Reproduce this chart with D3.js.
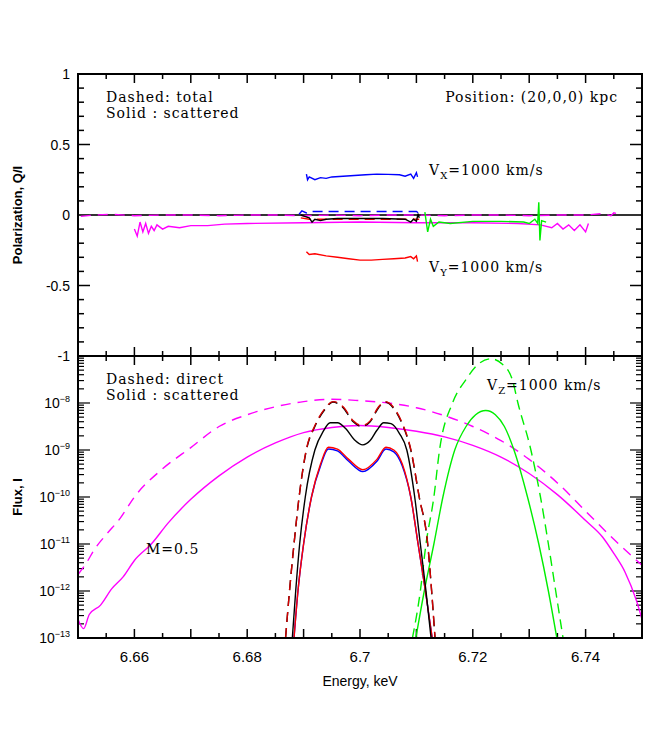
<!DOCTYPE html>
<html>
<head>
<meta charset="utf-8">
<script src="https://cdn.jsdelivr.net/npm/d3@7"></script>
<style>
  body { margin: 0; background: #fff; }
  text { font-family: "Liberation Sans", Arial, sans-serif; }
  .hx { font-family: "DejaVu Serif", serif; font-size: 14px; letter-spacing: 1px; }
</style>
</head>
<body>
<div id="chart"></div>
<script>
// ---- data: energy (keV) and values ----
// top panel: polarization Q/I
const magDashE = [6.6505,6.653,6.656,6.66,6.665,6.67,6.675,6.68,6.685,6.69,6.695,6.70,6.705,6.71,6.715,6.72,6.725,6.73,6.735,6.74,6.743,6.7445,6.745,6.7465]
const magDashQ = [-0.01,0,0.005,-0.005,0,0,-0.005,0,0,-0.005,0,-0.005,0,0,-0.005,0,0,-0.005,0,0,0.01,-0.005,0.015,0]
const magSolE = [6.660,6.6605,6.661,6.6615,6.662,6.6625,6.663,6.6635,6.664,6.665,6.666,6.668,6.670,6.673,6.676,6.680,6.690,6.700,6.710,6.720,6.728,6.732,6.734,6.735,6.736,6.737,6.738,6.739,6.740,6.7405]
const magSolQ = [-0.10,-0.15,-0.05,-0.12,-0.06,-0.13,-0.08,-0.11,-0.07,-0.10,-0.08,-0.09,-0.075,-0.075,-0.065,-0.06,-0.055,-0.05,-0.055,-0.055,-0.06,-0.07,-0.09,-0.06,-0.10,-0.07,-0.11,-0.07,-0.12,-0.06]
const blueSolE = [6.6905,6.6907,6.691,6.692,6.693,6.694,6.695,6.697,6.699,6.701,6.703,6.705,6.707,6.708,6.709,6.7095,6.710,6.7102]
const blueSolQ = [0.29,0.25,0.27,0.25,0.265,0.26,0.27,0.275,0.28,0.285,0.29,0.288,0.285,0.275,0.29,0.26,0.30,0.27]
const redSolE = [6.6905,6.691,6.692,6.694,6.696,6.698,6.700,6.702,6.704,6.706,6.708,6.709,6.7095,6.710,6.7102]
const redSolQ = [-0.26,-0.28,-0.275,-0.29,-0.30,-0.31,-0.32,-0.32,-0.315,-0.31,-0.305,-0.295,-0.31,-0.29,-0.33]
const blueDashE = [6.6892,6.6897,6.6905,6.691,6.70,6.710,6.7105,6.7108]
const blueDashQ = [0.005,0.03,0.015,0.025,0.025,0.025,0.01,0.03]
const blackSolE = [6.6895,6.691,6.6915,6.692,6.693,6.694,6.696,6.700,6.704,6.708,6.709,6.7095,6.7100,6.7103,6.7105]
const blackSolQ = [0,-0.02,-0.05,-0.03,-0.04,-0.03,-0.025,-0.025,-0.025,-0.03,-0.05,-0.03,-0.045,0.01,-0.02]
const redDashE = [6.6895,6.691,6.700,6.7105]
const redDashQ = [-0.02,-0.03,-0.03,-0.03]
const greenSolE = [6.7115,6.712,6.7125,6.713,6.714,6.716,6.720,6.725,6.729,6.730,6.731,6.7315,6.7317,6.7319,6.7322,6.733]
const greenSolQ = [0.02,-0.12,-0.03,-0.08,-0.05,-0.06,-0.045,-0.045,-0.05,-0.06,-0.03,-0.06,0.09,-0.18,-0.04,-0.05]

// bottom panel: log10 of flux I
const fMagDashE = [6.650,6.6515,6.653,6.655,6.6575,6.660,6.665,6.670,6.675,6.680,6.685,6.690,6.695,6.700,6.705,6.710,6.715,6.720,6.725,6.730,6.735,6.740,6.745,6.750]
const fMagDashL = [-11.65,-11.4,-11.1,-10.8,-10.45,-10.0,-9.4,-8.95,-8.5,-8.25,-8.08,-7.97,-7.92,-7.95,-8.0,-8.1,-8.27,-8.5,-8.8,-9.2,-9.7,-10.3,-10.9,-11.45]
const fMagSolE = [6.650,6.651,6.652,6.654,6.656,6.658,6.660,6.663,6.666,6.670,6.675,6.680,6.685,6.690,6.695,6.700,6.705,6.710,6.715,6.720,6.725,6.730,6.735,6.740,6.743,6.745,6.747,6.749,6.750]
const fMagSolL = [-12.6,-12.8,-12.5,-12.3,-11.95,-11.7,-11.35,-11.0,-10.55,-10.05,-9.55,-9.15,-8.85,-8.63,-8.52,-8.48,-8.52,-8.6,-8.72,-8.9,-9.15,-9.5,-9.95,-10.5,-10.85,-11.2,-11.6,-12.2,-12.6]
const fBlkDashE = [6.6868,6.6875,6.6883,6.6892,6.6905,6.692,6.6937,6.6952,6.697,6.6988,6.7003,6.7018,6.7033,6.7045,6.706,6.7075,6.709,6.7105,6.712,6.7127,6.7133]
const fBlkDashL = [-13,-12,-11,-10,-9.0,-8.5,-8.15,-7.98,-8.1,-8.4,-8.5,-8.4,-8.1,-7.98,-8.12,-8.45,-9.0,-10,-11,-12,-13]
const fRedDashL = [-13,-12,-11,-10,-8.98,-8.48,-8.13,-7.97,-8.08,-8.38,-8.48,-8.38,-8.08,-7.97,-8.1,-8.43,-8.98,-10,-11,-12,-13]
const fBlkSolE = [6.688,6.6886,6.6893,6.6903,6.692,6.6935,6.6947,6.696,6.6975,6.699,6.7005,6.7018,6.703,6.7042,6.7055,6.707,6.7083,6.7097,6.7107,6.7117,6.7126]
const fBlkSolL = [-13,-12,-11,-10,-9.0,-8.6,-8.42,-8.42,-8.55,-8.78,-8.89,-8.8,-8.58,-8.42,-8.44,-8.65,-9.0,-10,-11,-12,-13]
const fRedSolE = [6.6883,6.689,6.690,6.6914,6.693,6.6944,6.696,6.698,6.7005,6.703,6.7046,6.706,6.7075,6.709,6.7103,6.7116,6.7128]
const fRedSolL = [-13,-12,-11,-10,-9.3,-8.94,-8.98,-9.2,-9.42,-9.2,-8.94,-9.0,-9.3,-10,-11,-12,-13]
const fBluSolL = [-13,-12,-11,-10,-9.34,-8.98,-9.02,-9.24,-9.46,-9.24,-8.98,-9.04,-9.34,-10,-11,-12,-13]
const fGrnDashE = [6.7093,6.7107,6.7117,6.7131,6.7141,6.7164,6.7188,6.7210,6.7232,6.7252,6.727,6.728,6.7303,6.732,6.7334,6.7347,6.736]
const fGrnDashL = [-13,-12,-11,-10,-9,-8,-7.5,-7.17,-7.06,-7.17,-7.5,-8,-9,-10,-11,-12,-13]
const fGrnSolE = [6.7099,6.7114,6.7131,6.7147,6.7168,6.7188,6.7205,6.7223,6.724,6.7256,6.7273,6.7297,6.7317,6.7334,6.7349]
const fGrnSolL = [-13,-12,-11,-10,-9,-8.5,-8.25,-8.16,-8.25,-8.5,-9,-10,-11,-12,-13]

const xTickLabels = [6.66, 6.68, 6.70, 6.72, 6.74]
const qTickLabels = [1, 0.5, 0, -0.5, -1]
const fluxExponents = [-8, -9, -10, -11, -12, -13]

// ---- layout ----
const L = 78, R = 642, T1 = 74, B1 = 356, B2 = 638
const W = 664, H = 729
const MAG = "#ff00ff", BLU = "#0000ff", RED = "#ff0000", GRN = "#00ee00"

const svg = d3.select("#chart").append("svg").attr("width", W).attr("height", H)

const x = d3.scaleLinear().domain([6.65, 6.75]).range([L, R])
const yq = d3.scaleLinear().domain([-1, 1]).range([B1, T1])
const yf = d3.scaleLog().domain([1e-13, 1e-7]).range([B2, B1])

const defs = svg.append("defs")
defs.append("clipPath").attr("id", "c1").append("rect").attr("x", L).attr("y", T1).attr("width", R - L).attr("height", B1 - T1)
defs.append("clipPath").attr("id", "c2").append("rect").attr("x", L).attr("y", B1).attr("width", R - L).attr("height", B2 - B1)

// ticks every 0.005, major every 0.01
const xt = d3.range(0, 21).map(i => 6.65 + i * 0.005)
function xTicks(yb, yt) {
  xt.forEach((v, i) => {
    const len = i % 2 === 0 ? 9 : 5
    svg.append("line").attr("x1", x(v)).attr("x2", x(v)).attr("y1", yb).attr("y2", yb - len).attr("stroke", "#000").attr("stroke-width", 1.5)
    svg.append("line").attr("x1", x(v)).attr("x2", x(v)).attr("y1", yt).attr("y2", yt + len).attr("stroke", "#000").attr("stroke-width", 1.5)
  })
}
xTicks(B1, T1)
xTicks(B2, B1)

// top y ticks
d3.range(-10, 11).forEach(i => {
  const v = i / 10, len = i % 5 === 0 ? 12 : 6
  ;[[L, 1], [R, -1]].forEach(([x0, d]) => {
    svg.append("line").attr("x1", x0).attr("x2", x0 + d * len).attr("y1", yq(v)).attr("y2", yq(v)).attr("stroke", "#000").attr("stroke-width", 1.5)
  })
})
qTickLabels.forEach(v => {
  svg.append("text").attr("x", 70).attr("y", yq(v) + 5).attr("text-anchor", "end").attr("font-size", 14).text(v)
})

// bottom log ticks
for (let e = -13; e < -7; e++) {
  for (let m = 1; m < 10; m++) {
    const v = m * Math.pow(10, e), len = m === 1 ? 12 : 6
    ;[[L, 1], [R, -1]].forEach(([x0, d]) => {
      svg.append("line").attr("x1", x0).attr("x2", x0 + d * len).attr("y1", yf(v)).attr("y2", yf(v)).attr("stroke", "#000").attr("stroke-width", 1.2)
    })
  }
}
fluxExponents.forEach(e => {
  const t = svg.append("text").attr("x", 70).attr("y", yf(Math.pow(10, e)) + 5).attr("text-anchor", "end").attr("font-size", 14)
  t.append("tspan").text("10")
  t.append("tspan").attr("dy", -6).attr("font-size", 9).text(String(e).replace("-", "\u2212"))
})

xTickLabels.forEach(v => {
  svg.append("text").attr("x", x(v)).attr("y", 662).attr("text-anchor", "middle").attr("font-size", 15).text(d3.format("")(+v.toFixed(2)))
})
svg.append("text").attr("x", (L + R) / 2).attr("y", 686).attr("text-anchor", "middle").attr("font-size", 14).text("Energy, keV")
svg.append("text").attr("transform", `translate(22,${(T1 + B1) / 2}) rotate(-90)`).attr("text-anchor", "middle").attr("font-size", 13).attr("font-weight", "bold").text("Polarization, Q/I")
svg.append("text").attr("transform", `translate(22,${(B1 + B2) / 2}) rotate(-90)`).attr("text-anchor", "middle").attr("font-size", 13).attr("font-weight", "bold").text("Flux, I")

// zero line
svg.append("line").attr("x1", L).attr("x2", R).attr("y1", yq(0)).attr("y2", yq(0)).attr("stroke", "#333").attr("stroke-width", 2)

const g1 = svg.append("g").attr("clip-path", "url(#c1)")
const g2 = svg.append("g").attr("clip-path", "url(#c2)")

function draw(g, xs, ys, yscale, color, dash, log) {
  const pts = xs.map((e, i) => [e, log ? Math.pow(10, ys[i]) : ys[i]])
  const line = d3.line().x(d => x(d[0])).y(d => yscale(d[1])).curve(log ? d3.curveMonotoneX : d3.curveLinear)
  g.append("path").datum(pts).attr("d", line).attr("fill", "none").attr("stroke", color)
    .attr("stroke-width", 1.4).attr("stroke-dasharray", dash || null)
}

draw(g1, magDashE, magDashQ, yq, MAG, "10,7")
draw(g1, magSolE, magSolQ, yq, MAG)
draw(g1, redDashE, redDashQ, yq, RED, "10,6")
draw(g1, blackSolE, blackSolQ, yq, "#000")
draw(g1, blueDashE, blueDashQ, yq, BLU, "10,6")
draw(g1, blueSolE, blueSolQ, yq, BLU)
draw(g1, redSolE, redSolQ, yq, RED)
draw(g1, greenSolE, greenSolQ, yq, GRN)

draw(g2, fMagDashE, fMagDashL, yf, MAG, "10,7", true)
draw(g2, fMagSolE, fMagSolL, yf, MAG, null, true)
draw(g2, fGrnDashE, fGrnDashL, yf, GRN, "10,6", true)
draw(g2, fGrnSolE, fGrnSolL, yf, GRN, null, true)
draw(g2, fRedSolE, fBluSolL, yf, BLU, null, true)
draw(g2, fRedSolE, fRedSolL, yf, RED, null, true)
draw(g2, fBlkSolE, fBlkSolL, yf, "#000", null, true)
draw(g2, fBlkDashE, fBlkDashL, yf, "#000", "10,6", true)
draw(g2, fBlkDashE, fRedDashL, yf, "#d40000", "10,6", true)

// frames
svg.append("rect").attr("x", L).attr("y", T1).attr("width", R - L).attr("height", B2 - T1).attr("fill", "none").attr("stroke", "#000").attr("stroke-width", 2)
svg.append("line").attr("x1", L).attr("x2", R).attr("y1", B1).attr("y2", B1).attr("stroke", "#000").attr("stroke-width", 2)

// annotations
function note(xp, yp, txt, anchor) {
  return svg.append("text").attr("class", "hx").attr("x", xp).attr("y", yp).attr("text-anchor", anchor || "start").text(txt)
}
note(106, 102, "Dashed: total")
note(106, 118, "Solid   : scattered")
note(618, 102, "Position: (20,0,0) kpc", "end")
note(106, 384, "Dashed: direct")
note(106, 400, "Solid   : scattered")
note(146, 554, "M=0.5")
function vel(xp, yp, sub) {
  const t = note(xp, yp, "V")
  t.append("tspan").attr("dy", 4).attr("font-size", 10).text(sub)
  t.append("tspan").attr("dy", -4).text("=1000 km/s")
}
vel(429, 175, "X")
vel(429, 272, "Y")
vel(487, 390, "Z")
</script>
</body>
</html>
